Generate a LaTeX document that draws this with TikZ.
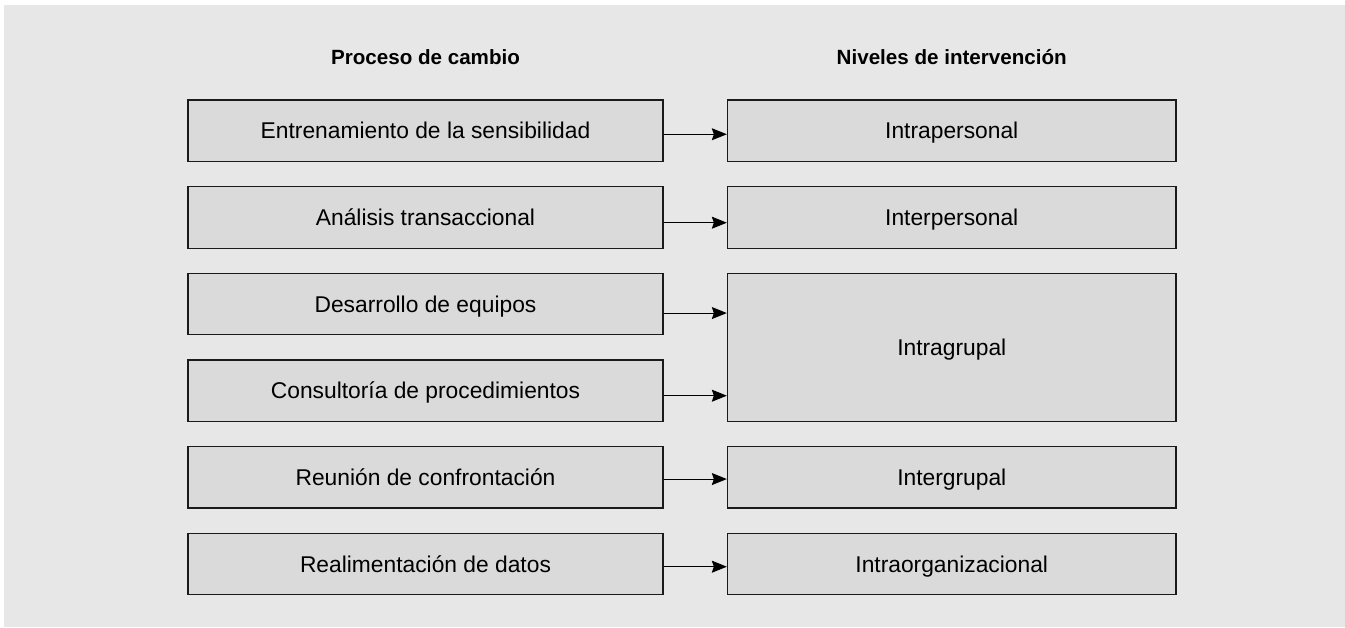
\documentclass[tikz,border=0pt]{standalone}
\usepackage{fontspec}
\setmainfont{Liberation Sans}
\usetikzlibrary{arrows.meta}
\definecolor{bggray}{HTML}{E7E7E7}
\definecolor{boxgray}{HTML}{DADADA}
\definecolor{edge}{HTML}{1A1A1A}
\begin{document}
\begin{tikzpicture}[x=1pt,y=-1pt,
  box/.style={draw=edge, line width=1.3pt, fill=boxgray, inner sep=0pt,
    minimum height=61.5pt, font=\fontsize{22.8}{27}\selectfont,
    text height=16.2pt, text depth=0pt},
  lbox/.style={box, minimum width=475pt},
  rbox/.style={box, minimum width=448.5pt},
  head/.style={font=\fontsize{20.6}{24}\selectfont\bfseries,
    text height=14.6pt, text depth=0pt, inner sep=0pt},
  arr/.style={draw=black, line width=1.1pt, -{Stealth[length=15pt,width=12pt,inset=2pt]}}]
\useasboundingbox (0,0) rectangle (1345,627);
\fill[white] (0,0) rectangle (1345,627);
\fill[bggray] (4,5) rectangle (1345,627);

\node[head] (h1) at (425.5,57.5) {Proceso de cambio};
\node[head] (h2) at (951.75,57.5) {Niveles de intervención};

\node[lbox] (l1) at (425.5,130.75) {Entrenamiento de la sensibilidad};
\node[lbox] (l2) at (425.5,217.4) {Análisis transaccional};
\node[lbox] (l3) at (425.5,304.05) {Desarrollo de equipos};
\node[lbox] (l4) at (425.5,390.7) {Consultoría de procedimientos};
\node[lbox] (l5) at (425.5,477.35) {Reunión de confrontación};
\node[lbox] (l6) at (425.5,564.0) {Realimentación de datos};

\node[rbox] (r1) at (951.75,130.75) {Intrapersonal};
\node[rbox] (r2) at (951.75,217.4) {Interpersonal};
\node[rbox, minimum height=148.4pt] (r3) at (951.75,347.5) {Intragrupal};
\node[rbox] (r5) at (951.75,477.35) {Intergrupal};
\node[rbox] (r6) at (951.75,564.0) {Intraorganizacional};

\coordinate (s1) at ([yshift=-3.5pt]l1.east);
\coordinate (s2) at ([yshift=-5.3pt]l2.east);
\coordinate (s3) at ([yshift=-9pt]l3.east);
\coordinate (s4) at ([yshift=-5pt]l4.east);
\coordinate (s5) at ([yshift=-1.7pt]l5.east);
\coordinate (s6) at ([yshift=-2.7pt]l6.east);

\draw[arr] (s1) -- (s1 -| r1.west);
\draw[arr] (s2) -- (s2 -| r2.west);
\draw[arr] (s3) -- (s3 -| r3.west);
\draw[arr] (s4) -- (s4 -| r3.west);
\draw[arr] (s5) -- (s5 -| r5.west);
\draw[arr] (s6) -- (s6 -| r6.west);
\end{tikzpicture}
\end{document}
